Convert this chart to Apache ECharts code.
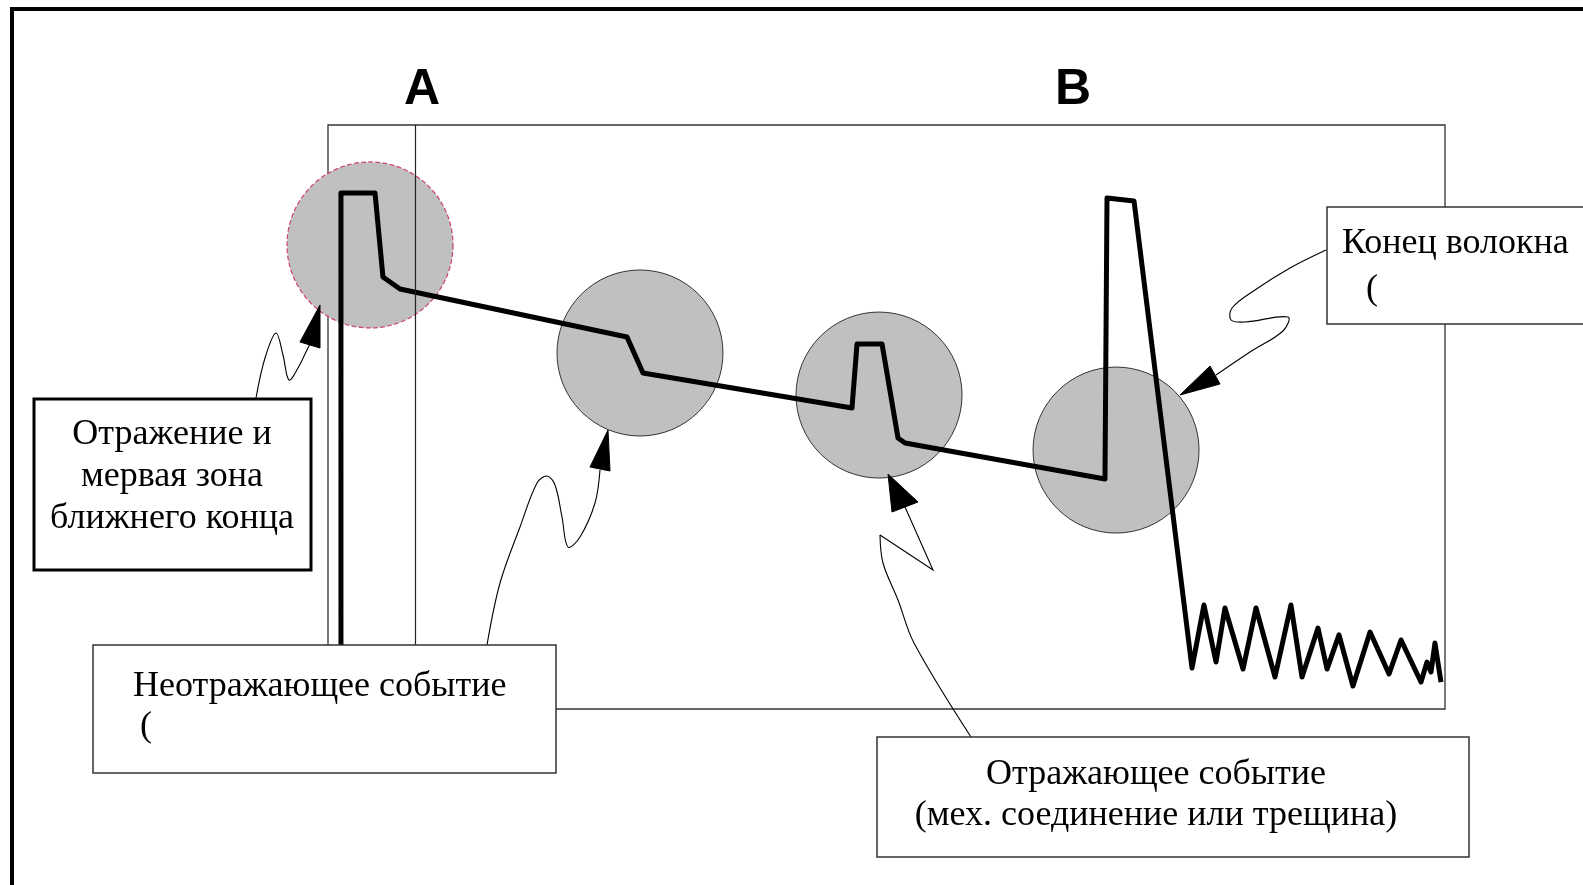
<!DOCTYPE html>
<html>
<head>
<meta charset="utf-8">
<script src="https://cdn.jsdelivr.net/npm/echarts@6/dist/echarts.min.js"></script>
<style>
  html, body { margin: 0; padding: 0; background: #fff; }
  #chart { width: 1583px; height: 885px; }
</style>
</head>
<body>
<div id="chart"></div>
<script>
// OTDR trace (distance, arbitrary units 0..100; level, dB 0..50)
const traceDistance = [1.16, 1.16, 4.21, 4.92, 6.45, 26.77, 28.20, 46.91, 47.36, 49.60, 51.03, 51.66, 69.56, 69.74, 72.16,
  77.35, 78.42, 79.50, 80.30, 81.92, 83.08, 84.78, 86.21, 87.20, 88.63, 89.44, 90.51, 91.76, 93.29, 94.99, 96.06, 97.85, 98.39, 98.75, 99.10, 99.64];
const traceLevel = [0, 44.18, 44.18, 36.99, 35.96, 31.85, 28.77, 25.77, 31.25, 31.25, 23.20, 22.77, 19.69, 43.75, 43.49,
  3.51, 8.90, 4.02, 8.65, 3.42, 8.65, 2.74, 8.90, 2.74, 6.93, 3.42, 6.34, 1.97, 6.59, 3.00, 5.91, 2.31, 4.02, 3.17, 5.65, 2.31];

// event zones (circles)
const eventDistance = [3.76, 27.93, 49.33, 70.55];
const eventLevel = [39.73, 30.48, 26.88, 22.17];

// cursors
const cursorNames = ['A', 'B'];
const cursorDistance = [7.79, 67.5];

// callout texts
const labelNearEnd = ['Отражение и', 'мервая зона', 'ближнего конца'];
const labelNonReflective = ['Неотражающее событие', '('];
const labelReflective = ['Отражающее событие', '(мех. соединение или трещина)'];
const labelFiberEnd = ['Конец волокна', '('];

const chart = echarts.init(document.getElementById('chart'), null, { renderer: 'canvas' });

const serif = '"Liberation Serif", "Times New Roman", serif';
const FS = 36;

function txt(text, x, y, align, size, fontFamily, weight) {
  return {
    type: 'text', z: 120,
    style: {
      text: text, x: x, y: y,
      textAlign: align || 'center', textVerticalAlign: 'middle',
      font: (weight || 'normal') + ' ' + (size || FS) + 'px ' + (fontFamily || serif),
      fill: '#000'
    }
  };
}
function box(x, y, w, h, lw) {
  return {
    type: 'rect', z: 110,
    shape: { x: x, y: y, width: w, height: h },
    style: { fill: '#fff', stroke: lw > 2 ? '#000' : '#333', lineWidth: lw }
  };
}
function curve(points) {
  return {
    type: 'polyline', z: 60,
    shape: { points: points, smooth: 0.35 },
    style: { stroke: '#000', lineWidth: 1.1, fill: null }
  };
}
function head(points) {
  return {
    type: 'polygon', z: 61,
    shape: { points: points },
    style: { fill: '#000', stroke: '#000', lineWidth: 1 }
  };
}

const graphics = [
  // outer frame
  { type: 'rect', z: 5, shape: { x: 12, y: 9, width: 1600, height: 900 },
    style: { fill: null, stroke: '#000', lineWidth: 4 } },
  // cursor letters
  txt(cursorNames[0], 422, 90, 'center', 50, '"Liberation Sans", Arial, sans-serif', 'bold'),
  txt(cursorNames[1], 1073, 90, 'center', 50, '"Liberation Sans", Arial, sans-serif', 'bold'),

  // callout 1: near-end reflection
  curve([[256, 398], [265, 358], [276, 333], [283, 355], [289, 380], [298, 368], [306, 352], [310, 344]]),
  head([[320, 305], [300, 342], [320, 348]]),
  box(34, 399, 277, 171, 3),
  txt(labelNearEnd[0], 172, 435),
  txt(labelNearEnd[1], 172, 477),
  txt(labelNearEnd[2], 172, 519),

  // callout 2: non-reflective event
  curve([[487, 645], [500, 583], [520, 527], [537, 483], [547, 476], [555, 485], [562, 517], [568, 547], [580, 537], [595, 503], [600, 470]]),
  head([[608, 430], [590, 467], [610, 471]]),
  box(93, 645, 463, 128, 1.5),
  txt(labelNonReflective[0], 133, 687, 'left'),
  txt(labelNonReflective[1], 140, 727, 'left'),

  // callout 3: reflective event
  curve([[971, 737], [914, 643], [898, 600], [883, 563], [880, 535]]),
  { type: 'polyline', z: 60, shape: { points: [[880, 535], [933, 570], [905, 507]] },
    style: { stroke: '#000', lineWidth: 1.1, fill: null } },
  head([[888, 474], [892, 512], [918, 502]]),
  box(877, 737, 592, 120, 1.5),
  txt(labelReflective[0], 1156, 775),
  txt(labelReflective[1], 1156, 816),

  // callout 4: fiber end
  curve([[1326, 250], [1290, 268], [1255, 290], [1232, 308], [1231, 320], [1245, 322], [1288, 317], [1283, 331], [1250, 352], [1216, 375]]),
  head([[1180, 395], [1210, 366], [1220, 384]]),
  box(1327, 207, 300, 117, 1.5),
  txt(labelFiberEnd[0], 1342, 244, 'left', 36),
  txt(labelFiberEnd[1], 1366, 290, 'left', 36)
];

const option = {
  animation: false,
  backgroundColor: '#fff',
  grid: {
    left: 328, top: 125, width: 1117, height: 584,
    show: true, borderColor: '#333', borderWidth: 1.3, backgroundColor: 'transparent'
  },
  xAxis: { type: 'value', min: 0, max: 100, show: false },
  yAxis: { type: 'value', min: 0, max: 50, show: false },
  series: [
    {
      type: 'scatter', z: 2, silent: true,
      symbol: 'circle', symbolSize: 166,
      itemStyle: { color: '#c0c0c0', opacity: 1, borderColor: '#333', borderWidth: 1 },
      data: eventDistance.map((d, i) => i === 0
        ? { value: [d, eventLevel[i]], itemStyle: { borderColor: '#cc4466', borderType: 'dashed', borderWidth: 1.2 } }
        : [d, eventLevel[i]])
    },
    {
      type: 'line', z: 4, silent: true, clip: false,
      showSymbol: false, symbol: 'none',
      lineStyle: { color: '#000', width: 5, join: 'round', cap: 'butt' },
      data: traceDistance.map((d, i) => [d, traceLevel[i]])
    },
    {
      type: 'line', z: 3, silent: true, clip: false, data: [],
      markLine: {
        silent: true, symbol: ['none', 'none'],
        label: { show: false },
        lineStyle: { color: '#222', width: 1.2, type: 'solid' },
        data: [
          [{ coord: [cursorDistance[0], 50] }, { coord: [cursorDistance[0], 5.5] }],
          [{ coord: [cursorDistance[1], 49.4] }, { coord: [cursorDistance[1], -0.7] }]
        ]
      }
    }
  ],
  graphic: graphics
};
chart.setOption(option);
</script>
</body>
</html>
